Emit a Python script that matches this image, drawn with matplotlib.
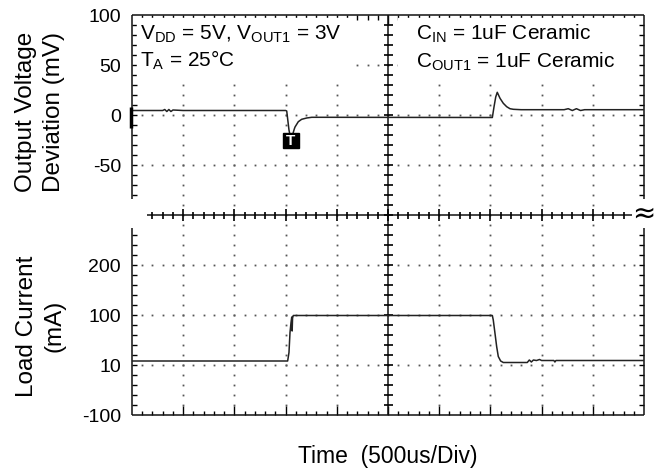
import numpy as np
import matplotlib
matplotlib.use("Agg")
import matplotlib.pyplot as plt
from matplotlib.patches import Rectangle

plt.rcParams['font.family'] = ['Liberation Sans', 'DejaVu Sans']
plt.rcParams['mathtext.fontset'] = 'custom'
plt.rcParams['mathtext.rm'] = 'Liberation Sans'
plt.rcParams['mathtext.it'] = 'Liberation Sans'

# output voltage deviation trace (time in us, value in mV)
volt_t = [0, 300, 320, 340, 360, 380, 400, 500, 1500, 1511, 1533, 1553, 1585, 1592,
          1624, 1657, 1706, 1755, 1850, 3510, 3519, 3535, 3552, 3567, 3594, 3626,
          3659, 3691, 3724, 3800, 4220, 4260, 4300, 4340, 4380, 4420, 5000]
volt_mv = [4.5, 4.5, 5.5, 3.5, 5.5, 3.5, 5.0, 4.5, 4.5, 4, -15, -25, -14, -12,
           -6.7, -4.3, -3, -2.3, -2.3, -2.5, -2.5, 8, 18, 22.7, 16.7, 11.7,
           8.3, 6.3, 5.7, 5.3, 5.3, 6.3, 4.5, 6.3, 4.5, 5.3, 5.3]

# load current trace (time in us, value in mA)
curr_t = [0, 1520, 1533, 1543, 1553, 1560, 1564, 1568, 1575, 1600, 3519, 3528,
          3545, 3561, 3577, 3600, 3626, 3860, 3880, 3900, 3920, 3950, 3980, 4000,
          4120, 4130, 4140, 5000]
curr_ma = [8, 8, 25, 65, 85, 96, 68, 94, 99, 99, 99, 90,
           63, 37, 17, 8, 5, 5, 10, 6, 10, 9, 11, 9,
           9, 6, 9, 9]

volt_ticks = [100, 50, 0, -50]
volt_labels = ['100', '50', '0', '-50']
curr_ticks = [-100, 0, 100, 200]
curr_labels = ['-100', '10', '100', '200']

W, H = 660, 472
L, R, T, B = 132, 644, 15, 415
pos = [L / W, 1 - B / H, (R - L) / W, (B - T) / H]
px_x = 10 / (R - L)   # divisions per pixel
px_y = 8 / (B - T)
PT = 0.72             # points per pixel at 100 dpi


def gx(x):
    return (x - L) * px_x


def gy(y):
    return 8 - (y - T) * px_y


fig = plt.figure(figsize=(6.6, 4.72), dpi=100)

# graticule axes in division units, frame ticks from the axis itself
g = fig.add_axes(pos, zorder=0)
g.set_xlim(0, 10)
g.set_ylim(0, 8)
for s in g.spines.values():
    s.set_visible(False)

xs_sub = np.round(np.arange(0.2, 10, 0.2), 6)
ys_sub = np.round(np.arange(0.2, 8, 0.2), 6)
is_major_x = np.isclose(xs_sub, np.round(xs_sub))

g.set_xticks(xs_sub[is_major_x])
g.set_xticks(xs_sub[~is_major_x], minor=True)
g.set_yticks(ys_sub)
g.tick_params(axis='both', which='both', direction='in', colors='black', width=1.0,
              top=True, right=True, labelbottom=False, labelleft=False)
g.tick_params(axis='x', which='major', length=9 * PT)
g.tick_params(axis='x', which='minor', length=4.5 * PT)
g.tick_params(axis='y', which='both', length=5 * PT)

ink = '#111111'
# dotted division lines
dots_x, dots_y = [], []
for xv in range(1, 10):
    if xv != 5:
        dots_x += [xv] * len(ys_sub)
        dots_y += list(ys_sub)
for yv in range(1, 8):
    if yv != 4:
        dots_x += list(xs_sub)
        dots_y += [yv] * len(xs_sub)
g.plot(dots_x, dots_y, ls='none', marker='s', ms=1.3, mew=0, color='#555555', zorder=1)

# white boxes behind the condition text
g.add_patch(Rectangle((gx(137), gy(80)), gx(352) - gx(137), gy(18) - gy(80),
                      color='white', zorder=2))
g.add_patch(Rectangle((gx(398), gy(80)), gx(637) - gx(398), gy(18) - gy(80),
                      color='white', zorder=2))
# gaps in the side frame next to the centre line
g.add_patch(Rectangle((-0.05, gy(228)), 0.2, gy(199) - gy(228), color='white',
                      zorder=2.5, clip_on=False))
g.add_patch(Rectangle((9.85, gy(228)), 0.2, gy(199) - gy(228), color='white',
                      zorder=2.5, clip_on=False))

# frame and centre cross
gap = (gy(228), gy(199))
kw = dict(color=ink, lw=1.1, solid_capstyle='butt', clip_on=False, zorder=3)
g.plot([0, 10], [8, 8], **kw)
g.plot([0, 10], [0, 0], **kw)
g.plot([0, 0], [0, gap[0]], **kw)
g.plot([0, 0], [gap[1], 8], **kw)
g.plot([10, 10], [0, gap[0]], **kw)
g.plot([10, 10], [gap[1], 8], **kw)
g.plot([5, 5], [0, 8], **kw)
g.plot([gx(147), gx(632)], [4, 4], **kw)

# crossing ticks on the centre lines
mk = dict(ls='none', color='black', mew=1.2, clip_on=False, zorder=3)
inner = (xs_sub > gx(147)) & (xs_sub < gx(632))
g.plot(xs_sub[inner & ~is_major_x], np.full((inner & ~is_major_x).sum(), 4.0),
       marker='|', ms=7 * PT, **mk)
g.plot(xs_sub[inner & is_major_x], np.full((inner & is_major_x).sum(), 4.0),
       marker='|', ms=12 * PT, **mk)
g.plot(np.full(len(ys_sub), 5.0), ys_sub, marker='_', ms=9 * PT, **mk)

# condition text
g.text(gx(140), gy(40), r'V$_{\rm DD}$ = 5V, V$_{\rm OUT1}$ = 3V', fontsize=15,
       va='baseline', ha='left', zorder=4)
g.text(gx(140), gy(67), r'T$_{\rm A}$ = 25°C', fontsize=15,
       va='baseline', ha='left', zorder=4)
g.text(gx(416), gy(40), r'C$_{\rm IN}$ = 1uF Ceramic', fontsize=15,
       va='baseline', ha='left', zorder=4)
g.text(gx(416), gy(68), r'C$_{\rm OUT1}$ = 1uF Ceramic', fontsize=15,
       va='baseline', ha='left', zorder=4)
g.text(gx(644), gy(214), '≈', fontsize=20, ha='center', va='center', zorder=7,
       family='DejaVu Sans', clip_on=False)

# data axes
av = fig.add_axes(pos, zorder=2)
av.patch.set_visible(False)
av.plot(volt_t, volt_mv, color='#222222', lw=1.1)
av.set_xlim(0, 5000)
av.set_ylim(-300, 100)
av.set_yticks(volt_ticks, volt_labels)
av.set_xticks([])
av.tick_params(axis='y', length=0, pad=8, labelsize=14)
for s in av.spines.values():
    s.set_visible(False)

ac = fig.add_axes(pos, zorder=3)
ac.patch.set_visible(False)
ac.plot(curr_t, curr_ma, color='#222222', lw=1.1)
ac.set_xlim(0, 5000)
ac.set_ylim(-100, 700)
ac.set_yticks(curr_ticks, curr_labels)
ac.set_xticks([])
ac.tick_params(axis='y', length=0, pad=8, labelsize=14)
for s in ac.spines.values():
    s.set_visible(False)

# channel ground marker and trigger marker, drawn above the traces
ac.plot([gx(131), gx(131)], [gy(107), gy(128)], color='black', lw=2.5,
        solid_capstyle='butt', clip_on=False, zorder=5, transform=g.transData)
ac.add_patch(Rectangle((gx(283), gy(148)), gx(299) - gx(283), gy(133) - gy(148),
                       color='black', zorder=6, transform=g.transData))
ac.text(gx(291), gy(141), 'T', color='white', fontsize=11, fontweight='bold',
        ha='center', va='center', zorder=7, transform=g.transData)

fig.text(40 / W, 1 - 112 / H, 'Output Voltage\nDeviation (mV)', rotation=90,
         ha='center', va='center', multialignment='center', fontsize=17.5,
         linespacing=1.35)
fig.text(41 / W, 1 - 326 / H, 'Load Current\n(mA)', rotation=90,
         ha='center', va='center', multialignment='center', fontsize=17.5,
         linespacing=1.35)
fig.text(388 / W, 1 - 456 / H, 'Time  (500us/Div)', ha='center', va='center',
         fontsize=16.5)

fig.savefig('out.png', dpi=100)
